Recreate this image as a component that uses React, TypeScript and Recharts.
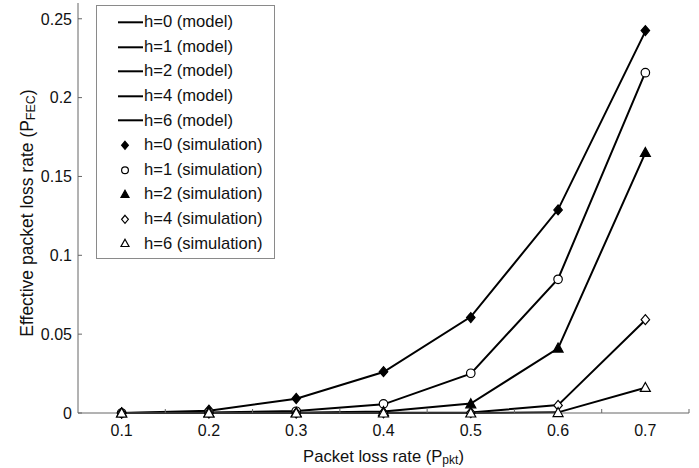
import { ComposedChart, Line, XAxis, YAxis, Legend, Label } from "recharts";

const LOSS_RATES = [0.1, 0.2, 0.3, 0.4, 0.5, 0.6, 0.7];
const X_TICKS = [0.1, 0.15, 0.2, 0.25, 0.3, 0.35, 0.4, 0.45, 0.5, 0.55, 0.6, 0.65, 0.7, 0.75];
const Y_TICKS = [0, 0.05, 0.1, 0.15, 0.2, 0.25];

// model curves
const MODEL_H0 = [0, 0.0015, 0.009, 0.026, 0.061, 0.129, 0.242];
const MODEL_H1 = [0, 0.0003, 0.0012, 0.0055, 0.025, 0.085, 0.216];
const MODEL_H2 = [0, 0, 0.0002, 0.001, 0.006, 0.041, 0.165];
const MODEL_H4 = [0, 0, 0, 0.0001, 0.0003, 0.005, 0.059];
const MODEL_H6 = [0, 0, 0, 0, 0, 0.0004, 0.016];

// simulation points
const SIM_H0 = [0, 0.0018, 0.0092, 0.0262, 0.0605, 0.1288, 0.2425];
const SIM_H1 = [0, 0.0004, 0.0011, 0.0058, 0.0252, 0.0848, 0.2158];
const SIM_H2 = [0, 0, 0.0003, 0.0009, 0.0058, 0.0412, 0.1652];
const SIM_H4 = [0, 0, 0, 0.0001, 0.0002, 0.0048, 0.0592];
const SIM_H6 = [0, 0, 0, 0, 0, 0.0003, 0.0162];

const MODELS = [
  { key: "m0", name: "h=0 (model)", values: MODEL_H0 },
  { key: "m1", name: "h=1 (model)", values: MODEL_H1 },
  { key: "m2", name: "h=2 (model)", values: MODEL_H2 },
  { key: "m4", name: "h=4 (model)", values: MODEL_H4 },
  { key: "m6", name: "h=6 (model)", values: MODEL_H6 },
];

const SIMS = [
  { key: "s0", name: "h=0 (simulation)", values: SIM_H0, shape: "diamond", filled: true },
  { key: "s1", name: "h=1 (simulation)", values: SIM_H1, shape: "circle", filled: false },
  { key: "s2", name: "h=2 (simulation)", values: SIM_H2, shape: "triangle", filled: true },
  { key: "s4", name: "h=4 (simulation)", values: SIM_H4, shape: "diamond", filled: false },
  { key: "s6", name: "h=6 (simulation)", values: SIM_H6, shape: "triangle", filled: false },
];

const data = LOSS_RATES.map((p, i) => {
  const row: Record<string, number> = { p };
  MODELS.forEach((m) => (row[m.key] = m.values[i]));
  SIMS.forEach((s) => (row[s.key] = s.values[i]));
  return row;
});

const FONT = "'Liberation Sans', Arial, sans-serif";
const AXIS = "#666";

function Marker({ cx, cy, shape, filled, size }: any) {
  const s = size / 2;
  const fill = filled ? "#000" : "#fff";
  if (shape === "circle") {
    return <circle cx={cx} cy={cy} r={s * 0.85} fill={fill} stroke="#000" strokeWidth={1.2} />;
  }
  const pts =
    shape === "diamond"
      ? `${cx},${cy - s} ${cx + s * 0.85},${cy} ${cx},${cy + s} ${cx - s * 0.85},${cy}`
      : `${cx},${cy - s} ${cx + s},${cy + s * 0.8} ${cx - s},${cy + s * 0.8}`;
  return <polygon points={pts} fill={fill} stroke="#000" strokeWidth={1.2} strokeLinejoin="miter" />;
}

function XTick({ x, y, payload }: any) {
  const v = payload.value;
  const major = Math.round(v * 100) % 10 === 0;
  if (!major) return <line x1={x} x2={x} y1={y} y2={y - 4} stroke={AXIS} />;
  return (
    <text x={x} y={y + 23} textAnchor="middle" fontSize={16} fontFamily={FONT} fill="#111">
      {String(v)}
    </text>
  );
}

function YTick({ x, y, payload }: any) {
  return (
    <g>
      <line x1={x} x2={x + 4} y1={y} y2={y} stroke={AXIS} />
      <text x={x - 6} y={y} dy="0.36em" textAnchor="end" fontSize={16} fontFamily={FONT} fill="#111">
        {String(payload.value)}
      </text>
    </g>
  );
}

function LegendBox() {
  const rowH = 24.6;
  return (
    <div
      style={{
        width: 177,
        height: 248,
        border: "1px solid #8a8a8a",
        background: "#fff",
        paddingTop: 4,
        boxSizing: "content-box",
        fontFamily: FONT,
        fontSize: 16.6,
        color: "#111",
      }}
    >
      {MODELS.map((m) => (
        <div key={m.key} style={{ height: rowH, display: "flex", alignItems: "center" }}>
          <svg width={47} height={rowH} style={{ flex: "none" }}>
            <line x1={21} x2={46} y1={rowH / 2} y2={rowH / 2} stroke="#000" strokeWidth={2} />
          </svg>
          <span style={{ whiteSpace: "nowrap" }}>{m.name}</span>
        </div>
      ))}
      {SIMS.map((s) => (
        <div key={s.key} style={{ height: rowH, display: "flex", alignItems: "center" }}>
          <svg width={47} height={rowH} style={{ flex: "none" }}>
            <Marker cx={28} cy={rowH / 2} shape={s.shape} filled={s.filled} size={8} />
          </svg>
          <span style={{ whiteSpace: "nowrap" }}>{s.name}</span>
        </div>
      ))}
    </div>
  );
}

export default function App() {
  return (
    <div style={{ position: "absolute", left: 0, top: 0, background: "#fff" }}>
      <ComposedChart width={699} height={468} data={data} margin={{ top: 3, right: 10, bottom: 0, left: 0 }}>
        <XAxis
          type="number"
          dataKey="p"
          domain={[0.05, 0.75]}
          ticks={X_TICKS}
          interval={0}
          tickLine={false}
          tickSize={0}
          tickMargin={0}
          tick={<XTick />}
          height={55}
          stroke={AXIS}
        >
          <Label
            content={({ viewBox }: any) => (
              <text
                x={viewBox.x + viewBox.width / 2}
                y={viewBox.y + 49}
                textAnchor="middle"
                fontSize={16.6}
                fontFamily={FONT}
                fill="#111"
              >
                Packet loss rate (P
                <tspan fontSize={12} dy={2}>pkt</tspan>
                <tspan dy={-2}>)</tspan>
              </text>
            )}
          />
        </XAxis>
        <YAxis
          type="number"
          domain={[0, 0.26]}
          ticks={Y_TICKS}
          interval={0}
          tickLine={false}
          tickSize={0}
          tickMargin={0}
          tick={<YTick />}
          width={78}
          stroke={AXIS}
        >
          <Label
            content={({ viewBox }: any) => {
              const cx = 33;
              const cy = viewBox.y + viewBox.height / 2 + 5;
              return (
                <text
                  x={cx}
                  y={cy}
                  transform={`rotate(-90, ${cx}, ${cy})`}
                  textAnchor="middle"
                  fontSize={17.5}
                  fontFamily={FONT}
                  fill="#111"
                >
                  Effective packet loss rate (P
                  <tspan fontSize={12.5} dy={2}>FEC</tspan>
                  <tspan dy={-2}>)</tspan>
                </text>
              );
            }}
          />
        </YAxis>
        <Legend
          layout="vertical"
          align="center"
          verticalAlign="middle"
          content={() => <LegendBox />}
          wrapperStyle={{ left: 96, top: 5, width: 179, height: 252, margin: 0 }}
        />
        {MODELS.map((m) => (
          <Line
            key={m.key}
            dataKey={m.key}
            name={m.name}
            stroke="#000"
            strokeWidth={2}
            dot={false}
            activeDot={false}
            isAnimationActive={false}
          />
        ))}
        {SIMS.map((s) => (
          <Line
            key={s.key}
            dataKey={s.key}
            name={s.name}
            stroke="none"
            strokeWidth={0}
            activeDot={false}
            isAnimationActive={false}
            dot={(props: any) => (
              <Marker key={`${s.key}-${props.index}`} cx={props.cx} cy={props.cy} shape={s.shape} filled={s.filled} size={10} />
            )}
          />
        ))}
      </ComposedChart>
    </div>
  );
}
